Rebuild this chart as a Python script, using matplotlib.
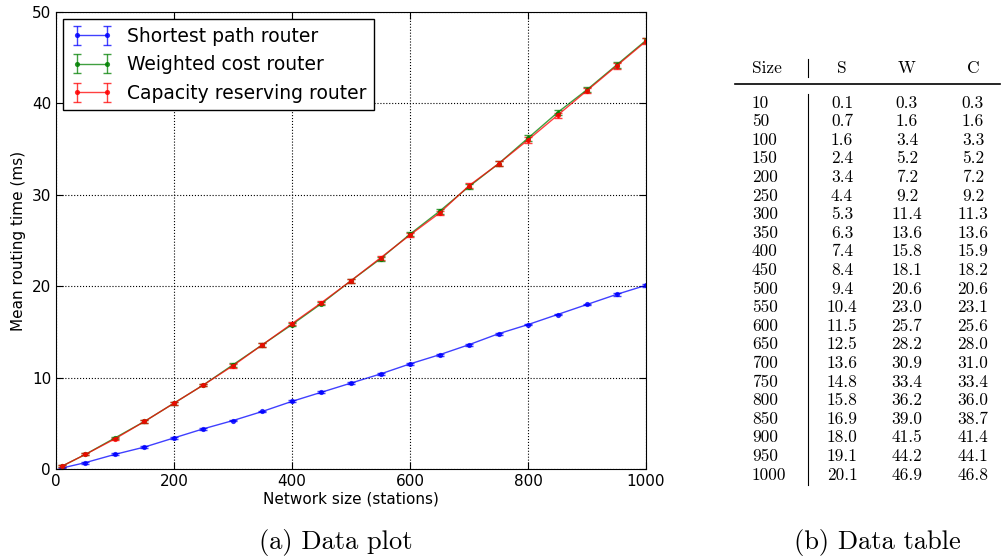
import numpy as np
import matplotlib
matplotlib.use('Agg')
import matplotlib.pyplot as plt

# network sizes and mean routing times (ms) for the three routers
sizes = [10, 50, 100, 150, 200, 250, 300, 350, 400, 450, 500,
         550, 600, 650, 700, 750, 800, 850, 900, 950, 1000]
shortest = [0.1, 0.7, 1.6, 2.4, 3.4, 4.4, 5.3, 6.3, 7.4, 8.4, 9.4,
            10.4, 11.5, 12.5, 13.6, 14.8, 15.8, 16.9, 18.0, 19.1, 20.1]
weighted = [0.3, 1.6, 3.4, 5.2, 7.2, 9.2, 11.4, 13.6, 15.8, 18.1, 20.6,
            23.0, 25.7, 28.2, 30.9, 33.4, 36.2, 39.0, 41.5, 44.2, 46.9]
capacity = [0.3, 1.6, 3.3, 5.2, 7.2, 9.2, 11.3, 13.6, 15.9, 18.2, 20.6,
            23.1, 25.6, 28.0, 31.0, 33.4, 36.0, 38.7, 41.4, 44.1, 46.8]

# standard errors (small)
err_s = [0.05, 0.1, 0.1, 0.1, 0.1, 0.1, 0.1, 0.1, 0.1, 0.1, 0.1,
         0.1, 0.1, 0.1, 0.1, 0.1, 0.1, 0.1, 0.1, 0.15, 0.15]
err_w = [0.1, 0.1, 0.1, 0.15, 0.15, 0.15, 0.2, 0.2, 0.2, 0.2, 0.2,
         0.2, 0.25, 0.25, 0.25, 0.25, 0.3, 0.3, 0.3, 0.3, 0.3]
err_c = [0.1, 0.1, 0.1, 0.15, 0.15, 0.15, 0.2, 0.2, 0.2, 0.2, 0.2,
         0.2, 0.25, 0.25, 0.25, 0.25, 0.3, 0.3, 0.3, 0.3, 0.3]

labels = ['Shortest path router', 'Weighted cost router', 'Capacity reserving router']
colors = ['#0000ff', '#008000', '#ff0000']

fig = plt.figure(figsize=(10.01, 5.60), dpi=100)
ax = fig.add_axes([0.0559, 0.1625, 0.5895, 0.8161])

for ys, es, c, lab in zip([shortest, weighted, capacity], [err_s, err_w, err_c], colors, labels):
    ax.errorbar(sizes, ys, yerr=es, fmt='.-', color=c, ecolor=c, capsize=3,
                markersize=5.5, linewidth=1, alpha=0.75, label=lab)

ax.set_xlim(0, 1000)
ax.set_ylim(0, 50)
ax.set_xticks([0, 200, 400, 600, 800, 1000])
ax.set_yticks([0, 10, 20, 30, 40, 50])
ax.grid(True, color='k', linestyle=':', linewidth=0.8)
ax.tick_params(direction='in', top=True, right=True, length=5, labelsize=11)
ax.set_xlabel('Network size (stations)', fontsize=11, labelpad=2)
ax.set_ylabel('Mean routing time (ms)', fontsize=11)
leg = ax.legend(loc='upper left', fontsize=13.5, fancybox=False, framealpha=1,
                edgecolor='k', borderaxespad=0.4, handlelength=2.2, numpoints=2)
leg.get_frame().set_linewidth(1)

serif = {'family': 'cmr10'}
fig.text(0.335, 1 - 543 / 560, '(a) Data plot', fontsize=19, ha='center', va='center', **serif)
fig.text(0.876, 1 - 543 / 560, '(b) Data table', fontsize=19, ha='center', va='center', **serif)

# the data table on the right
W, H = 1001, 560
def fx(px):
    return px / W
def fy(py):
    return 1 - py / H

tfs = 12.5
col_x = [752, 842, 907, 973]
fig.text(fx(752), fy(68), 'Size', fontsize=tfs, ha='left', va='center', **serif)
for x, h in zip(col_x[1:], ['S', 'W', 'C']):
    fig.text(fx(x), fy(68), h, fontsize=tfs, ha='center', va='center', **serif)
fig.add_artist(plt.Line2D([fx(735), fx(1000)], [fy(84), fy(84)], color='k', linewidth=1.2))
fig.add_artist(plt.Line2D([fx(808), fx(808)], [fy(59), fy(77)], color='k', linewidth=0.8))
fig.add_artist(plt.Line2D([fx(808), fx(808)], [fy(94), fy(485)], color='k', linewidth=0.8))

row0, dy = 103, 18.6
for i, sz in enumerate(sizes):
    y = fy(row0 + i * dy)
    fig.text(fx(752), y, str(sz), fontsize=tfs, ha='left', va='center', **serif)
    for x, v in zip(col_x[1:], [shortest[i], weighted[i], capacity[i]]):
        fig.text(fx(x), y, '%.1f' % v, fontsize=tfs, ha='center', va='center', **serif)

fig.savefig('out.png', dpi=100)
